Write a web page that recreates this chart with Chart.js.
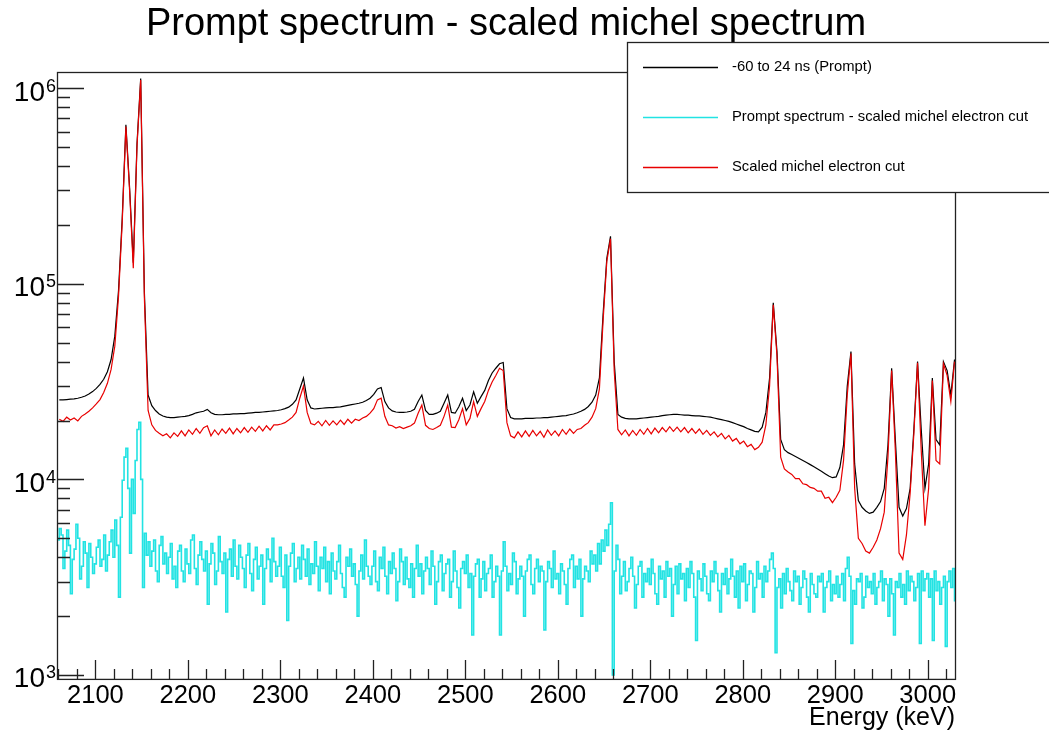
<!DOCTYPE html>
<html>
<head>
<meta charset="utf-8">
<title>Prompt spectrum - scaled michel spectrum</title>
<script src="https://cdn.jsdelivr.net/npm/chart.js@4.4.1/dist/chart.umd.min.js"></script>
<style>
  html, body { margin: 0; padding: 0; background: #fff; }
  #wrap { width: 1049px; height: 734px; }
</style>
</head>
<body>
<div id="wrap"><canvas id="spectrum" width="1049" height="734"></canvas></div>
<script>
// histogram binning (keV)
const promptLow = 2059;
const promptWidth = 4;
const diffLow = 2059;
const diffWidth = 2;

// -60 to 24 ns (Prompt), 4 keV bins from 2059 keV
const promptCounts = [
  25500, 25500, 25600, 25700, 25800, 26000, 26300, 26700, 27300, 28100,
  29200, 30600, 32500, 35500, 41000, 54000, 92000, 215000, 650000, 310000,
  128000, 520000, 1120000, 90000, 27000, 23800, 22500, 21600, 21100, 20800,
  20700, 20700, 20800, 20900, 21000, 21200, 21500, 21900, 22100, 22300,
  22800, 21900, 21500, 21400, 21400, 21500, 21500, 21600, 21600, 21700,
  21700, 21800, 21900, 22000, 22000, 22100, 22200, 22300, 22400, 22500,
  22700, 23000, 23400, 24200, 25500, 29000, 33000, 25500, 23200, 22900,
  23000, 23100, 23200, 23300, 23300, 23400, 23500, 23700, 23900, 24100,
  24300, 24500, 24800, 25300, 26000, 27200, 29000, 29500, 25000, 23200,
  22400, 22100, 22000, 22000, 22100, 22300, 22800, 25000, 27000, 22500,
  21500, 21500, 21800, 22300, 24500, 27000, 22000, 21800, 23500, 26000,
  22500, 24000, 28000, 24500, 26500, 28500, 32000, 35000, 37000, 39000,
  39600, 23000, 20700, 20400, 20400, 20400, 20500, 20500, 20500, 20600,
  20600, 20700, 20700, 20800, 20900, 21000, 21100, 21200, 21400, 21600,
  21900, 22300, 22800, 23600, 24800, 27000, 33000, 70000, 135000, 175000,
  40000, 21500, 20800, 20500, 20400, 20400, 20400, 20500, 20600, 20700,
  20800, 20900, 21000, 21200, 21300, 21400, 21500, 21500, 21400, 21300,
  21300, 21200, 21100, 21100, 21000, 20900, 20800, 20600, 20400, 20200,
  20000, 19800, 19500, 19200, 18900, 18600, 18200, 17900, 17600, 17500,
  18500, 22000, 33000, 80000, 45000, 16000, 14200, 13700, 13400, 13100,
  12800, 12500, 12200, 11900, 11600, 11300, 11000, 10700, 10400, 10200,
  10300, 11500, 15000, 30000, 45000, 12000, 7800, 7200, 6900, 6700,
  6800, 7200, 7700, 9000, 15000, 37000, 16000, 7200, 6500, 7100,
  9000, 18000, 40000, 18000, 9000, 12000, 33000, 16000, 15000, 40000,
  36000, 27000, 41000
];

// Scaled michel electron cut, same binning
const michelCounts = [
  20300, 19800, 20800, 20100, 20600, 19900, 21000, 21600, 22300, 23200,
  24300, 25600, 27800, 31000, 36500, 48000, 86000, 205000, 636000, 300000,
  120000, 505000, 1100000, 84000, 22500, 19000, 17800, 17200, 16700, 17100,
  16300, 17300, 16600, 17700, 16700, 17900, 17000, 18200, 17200, 18400,
  18800, 16700, 17900, 16900, 18100, 17200, 18300, 17100, 18200, 17300,
  18400, 17400, 18500, 17600, 18700, 17700, 18800, 17900, 19000, 19000,
  19200, 19500, 20100, 20800, 22000, 26000, 30000, 22000, 19300, 19000,
  19800, 18800, 20000, 18900, 19900, 19000, 20100, 19100, 20300, 19400,
  20300, 20000, 20600, 21000, 21800, 23000, 25500, 26000, 21000, 19000,
  18800, 18300, 18600, 18200, 18500, 18800, 19400, 21800, 24000, 18900,
  18200, 18000, 18400, 18900, 21000, 24000, 18500, 18400, 20200, 23000,
  19000, 20500, 25000, 21000, 23000, 25000, 28500, 31500, 34000, 37000,
  36000, 19500, 16700, 16300, 17500, 16500, 17700, 16600, 17800, 16700,
  17600, 16400, 17900, 16800, 17700, 16700, 18000, 17000, 18100, 17200,
  18000, 18200, 18900, 19500, 20800, 23000, 29000, 65000, 130000, 170000,
  36000, 18000, 16900, 17900, 16700, 17800, 16800, 18000, 17000, 18200,
  17100, 18300, 17300, 18400, 17500, 18600, 17600, 18500, 17500, 18400,
  17300, 18200, 17200, 18100, 17000, 17800, 16800, 17500, 16500, 17200,
  16100, 16800, 15700, 16200, 15200, 15700, 14700, 15100, 14200, 14600,
  15500, 19000, 30000, 78000, 43000, 13000, 11300, 10900, 10600, 10100,
  10100, 9500, 9400, 9100, 9000, 8700, 8700, 8000, 8100, 7600,
  8100, 8800, 12500, 27000, 44000, 9000, 5000, 4700, 4300, 4200,
  4500, 4900, 5600, 6800, 13000, 36000, 14000, 4200, 3900, 5200,
  8500, 17000, 39500, 14000, 5800, 9000, 32000, 12500, 12000, 39000,
  34000, 25000, 40000
];

// Prompt spectrum - scaled michel electron cut, 2 keV bins from 2059 keV
const diffCounts = [
  4900, 5600, 5200, 3500, 4300, 5500, 4600, 2600, 3900, 4400,
  5900, 5000, 3100, 3600, 4800, 4200, 2800, 4700, 4000, 3300,
  3700, 4500, 4900, 3600, 3900, 5200, 3400, 4100, 4800, 5500,
  4000, 6200, 4600, 2500, 6400, 9900, 13000, 14400, 9000, 4200,
  10000, 6700, 12500, 18000, 19600, 10000, 2800, 5300, 4100, 4800,
  3600, 4300, 4900, 3400, 3000, 4600, 5100, 3700, 4200, 3300,
  4000, 4700, 3100, 3600, 2800, 4300, 4600, 3400, 3000, 4400,
  3700, 3300, 4900, 5200, 3500, 2900, 4100, 4800, 3900, 3400,
  4300, 2300, 3700, 4700, 4200, 2900, 3400, 5100, 3800, 3300,
  4200, 2100, 3900, 4400, 3200, 4900, 3600, 3100, 4600, 4000,
  3500, 2800, 4100, 4700, 3300, 2700, 3900, 4500, 3100, 3600,
  4100, 2300, 3500, 4400, 3900, 3000, 5000, 3800, 3200, 3600,
  4500, 3200, 2800, 4100, 1900, 3600, 4200, 4700, 3000, 3500,
  4000, 3100, 4600, 3900, 3200, 4400, 2900, 3700, 3300, 4800,
  3600, 2700, 4000, 3500, 4500, 3000, 3800, 2600, 4200, 3400,
  3100, 3800, 4600, 3300, 2800, 2500, 4000, 3600, 4400, 3200,
  3700, 2900, 2000, 3400, 4100, 3100, 4900, 3600, 3200, 2900,
  3600, 4300, 3000, 2700, 4000, 3500, 4500, 3200, 2600, 3800,
  3300, 4200, 3500, 2400, 3000, 4400, 3800, 2900, 4000, 3100,
  2800, 3700, 2500, 3500, 4600, 3200, 3700, 2600, 3400, 4000,
  3500, 2900, 4300, 3600, 2300, 3000, 3800, 4100, 2700, 3300,
  3700, 3900, 2500, 3000, 4300, 3400, 2800, 2200, 3500, 3800,
  3300, 4100, 2800, 3300, 1600, 3200, 3700, 3900, 2500, 3100,
  3800, 2700, 3300, 3500, 4100, 2500, 3000, 3600, 3200, 1600,
  3400, 4800, 3600, 2700, 3300, 2900, 4200, 3800, 2600, 3100,
  3600, 3200, 2000, 3400, 3900, 4100, 2900, 2600, 3500, 3900,
  3000, 3600, 3400, 1700, 3000, 3800, 3500, 2800, 4300, 3100,
  3300, 2600, 3700, 3400, 2900, 2300, 3500, 3900, 4100, 2800,
  3600, 3100, 3900, 2000, 3100, 3600, 3400, 3000, 4300, 3700,
  4100, 3400, 4700, 3700, 4900, 4300, 5500, 4600, 5900, 7600,
  1000, 3400, 4600, 3900, 2600, 3200, 3800, 2700, 3000, 3500,
  4000, 3200, 2200, 2900, 3600, 3800, 2500, 3300, 3000, 3500,
  2900, 3900, 3300, 2600, 2300, 3600, 3100, 3400, 2500, 3800,
  3200, 3500, 2000, 2900, 3600, 2600, 3700, 3100, 3300, 2400,
  3500, 2800, 3800, 3300, 2500, 1500, 3400, 3100, 2700, 3700,
  3200, 2600, 2400, 3400, 3000, 3800, 3300, 2700, 2100, 3300,
  2900, 3500, 2600, 3100, 3900, 3200, 2500, 3400, 2200, 3600,
  3000, 3700, 2400, 2900, 3400, 3300, 2100, 2800, 3800, 3100,
  3300, 2500, 3600, 3000, 3400, 3900, 4200, 3500, 1300, 2800,
  3100, 2200, 3300, 2600, 3500, 3000, 2700, 2400, 3400, 3000,
  3200, 2300, 2800, 3400, 3100, 2500, 2100, 3300, 2900, 2600,
  2500, 3200, 3000, 3300, 2100, 2800, 3000, 3400, 2400, 2900,
  2600, 3200, 2500, 2900, 3300, 2400, 3500, 4000, 3200, 1450,
  2700, 2300, 3100, 3000, 3300, 2200, 2500, 3200, 2800, 3000,
  2600, 3300, 2300, 2800, 3000, 3400, 2400, 3100, 2900, 2000,
  3100, 2600, 1600, 3000, 2800, 3300, 2500, 2900, 2300, 3400,
  2700, 3200, 3000, 2400, 2800, 3300, 1450, 3400, 2700, 3100,
  3300, 2500, 3100, 1500, 3400, 2700, 3000, 2300, 2800, 3200,
  1400, 3000, 3400, 2800, 3500, 2400
];

const seriesLabels = [
  '-60 to 24 ns (Prompt)',
  'Prompt spectrum - scaled michel electron cut',
  'Scaled michel electron cut'
];
const seriesColors = ['#000000', '#22e3e3', '#e80000'];

const FONT = '"Liberation Sans", Arial, Helvetica, sans-serif';

// bin contents as a polyline through the bin centres
function centrePoints(low, width, counts) {
  return counts.map((c, i) => ({ x: low + (i + 0.5) * width, y: c }));
}

// bin contents as a step outline (left edge, right edge per bin)
function stepPoints(low, width, counts) {
  const pts = [];
  counts.forEach((c, i) => {
    pts.push({ x: low + i * width, y: c }, { x: low + (i + 1) * width, y: c });
  });
  return pts;
}

// ROOT style frame: inward ticks, 10^n labels, legend box
const frameTicks = {
  id: 'frameTicks',
  afterDatasetsDraw(chart) {
    const { ctx, chartArea: a, scales: { x, y } } = chart;
    ctx.save();
    ctx.strokeStyle = '#222';
    ctx.lineWidth = 1.3;
    ctx.strokeRect(a.left + 0.5, a.top + 0.5, a.right - a.left, a.bottom - a.top);

    ctx.beginPath();
    for (let e = 2060; e <= x.max; e += 20) {
      const px = Math.round(x.getPixelForValue(e)) + 0.5;
      const len = e % 100 === 0 ? 19 : 10;
      ctx.moveTo(px, a.bottom);
      ctx.lineTo(px, a.bottom - len);
    }
    for (let d = 2; d <= 6; d++) {
      for (let k = 1; k <= 9; k++) {
        const v = k * Math.pow(10, d);
        if (v < y.min || v > y.max) continue;
        const py = Math.round(y.getPixelForValue(v)) + 0.5;
        const len = k === 1 ? 27 : 13;
        ctx.moveTo(a.left, py);
        ctx.lineTo(a.left + len, py);
      }
    }
    ctx.stroke();

    ctx.fillStyle = '#000';
    ctx.textBaseline = 'alphabetic';
    for (let d = 3; d <= 6; d++) {
      const py = y.getPixelForValue(Math.pow(10, d));
      ctx.font = '28px ' + FONT;
      ctx.textAlign = 'right';
      ctx.fillText('10', 45, py + 12.5);
      ctx.font = '18px ' + FONT;
      ctx.textAlign = 'left';
      ctx.fillText(String(d), 46, py + 3.5);
    }
    ctx.restore();
  },
  afterDraw(chart) {
    const ctx = chart.ctx;
    const box = { left: 627, top: 42, width: 440, height: 150 };
    ctx.save();
    ctx.fillStyle = '#fff';
    ctx.fillRect(box.left, box.top, box.width, box.height);
    ctx.strokeStyle = '#222';
    ctx.lineWidth = 1.3;
    ctx.strokeRect(box.left + 0.5, box.top + 0.5, box.width, box.height);
    ctx.font = '14.8px ' + FONT;
    ctx.textBaseline = 'middle';
    ctx.textAlign = 'left';
    seriesLabels.forEach((label, i) => {
      const rowY = box.top + 25 + i * 50;
      ctx.strokeStyle = seriesColors[i];
      ctx.lineWidth = 1.5;
      ctx.beginPath();
      ctx.moveTo(643, rowY + 0.5);
      ctx.lineTo(718, rowY + 0.5);
      ctx.stroke();
      ctx.fillStyle = '#000';
      ctx.fillText(label, 732, rowY);
    });
    ctx.restore();
  }
};

new Chart(document.getElementById('spectrum'), {
  type: 'line',
  data: {
    datasets: [
      {
        label: seriesLabels[0],
        data: centrePoints(promptLow, promptWidth, promptCounts),
        borderColor: seriesColors[0],
        borderWidth: 1.2,
        order: 3
      },
      {
        label: seriesLabels[1],
        data: stepPoints(diffLow, diffWidth, diffCounts),
        borderColor: seriesColors[1],
        borderWidth: 1.6,
        order: 2
      },
      {
        label: seriesLabels[2],
        data: centrePoints(promptLow, promptWidth, michelCounts),
        borderColor: seriesColors[2],
        borderWidth: 1.2,
        order: 1
      }
    ]
  },
  options: {
    responsive: false,
    animation: false,
    devicePixelRatio: 1,
    elements: { point: { radius: 0 }, line: { tension: 0, fill: false } },
    layout: { padding: { left: 57, right: 94, top: 0, bottom: 1 } },
    plugins: {
      legend: { display: false },
      tooltip: { enabled: false },
      title: {
        display: true,
        text: 'Prompt spectrum - scaled michel spectrum',
        color: '#000',
        font: { family: FONT, size: 38, weight: 'normal' },
        padding: { top: 2, bottom: 24.4 }
      }
    },
    scales: {
      x: {
        type: 'linear',
        min: 2058.5,
        max: 3029.5,
        grid: { display: false, drawTicks: false },
        border: { display: false },
        ticks: {
          stepSize: 100,
          includeBounds: false,
          padding: 2,
          maxRotation: 0,
          autoSkip: false,
          color: '#000',
          font: { family: FONT, size: 25.5 },
          callback: v => String(v)
        },
        title: {
          display: true,
          text: 'Energy (keV)',
          align: 'end',
          color: '#000',
          font: { family: FONT, size: 25 },
          padding: { top: -10.5, bottom: 0 }
        }
      },
      y: {
        type: 'logarithmic',
        min: 955,
        max: 1.21e6,
        display: false
      }
    }
  },
  plugins: [frameTicks]
});
</script>
</body>
</html>
